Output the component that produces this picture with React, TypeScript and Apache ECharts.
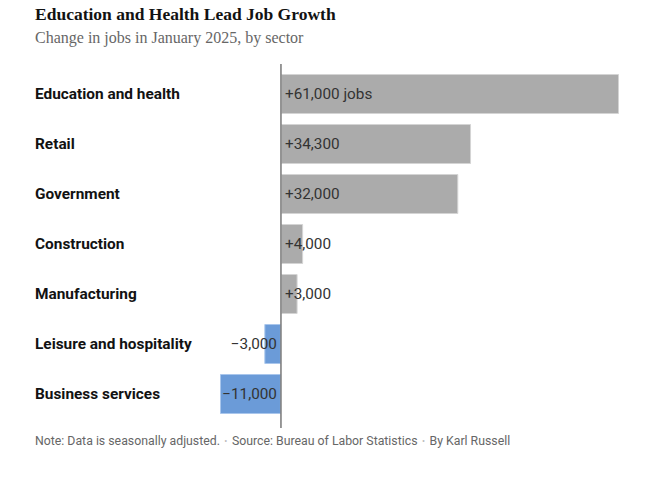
import React, { useEffect, useRef } from "react";
import * as echarts from "echarts";

const categories = [
  "Education and health",
  "Retail",
  "Government",
  "Construction",
  "Manufacturing",
  "Leisure and hospitality",
  "Business services",
];
const values = [61000, 34300, 32000, 4000, 3000, -3000, -11000];
const unitSuffix = [" jobs", "", "", "", "", "", ""];

const titleText = "Education and Health Lead Job Growth";
const subtitleText = "Change in jobs in January 2025, by sector";
const notes = [
  "Note: Data is seasonally adjusted.",
  "Source: Bureau of Labor Statistics",
  "By Karl Russell",
];

const fmt = (v: number, i: number) => {
  const s = Math.abs(v).toLocaleString("en-US");
  return (v >= 0 ? "+" : "\u2212") + s + unitSuffix[i];
};

export default function App() {
  const ref = useRef<HTMLDivElement>(null);
  useEffect(() => {
    if (!ref.current) return;
    const chart = echarts.init(ref.current, null, { renderer: "svg" });
    const sans = "Roboto, 'Liberation Sans', Arial, sans-serif";
    const serif = "'Liberation Serif', 'DejaVu Serif', serif";
    const GRID_TOP = 69;
    const GRID_H = 350;
    const footnote = {
      type: "text",
      left: 35,
      top: 435,
      style: {
        text:
          "{t|" + notes[0] + "}{d|  \u2022  }{t|" + notes[1] + "}{d|  \u2022  }{t|" + notes[2] + "}",
        rich: {
          t: { fontFamily: sans, fontSize: 12.3, fill: "#666666" },
          d: { fontFamily: sans, fontSize: 9, fill: "#bbbbbb" },
        },
      },
    };
    chart.setOption({
      animation: false,
      backgroundColor: "#ffffff",
      title: [
        {
          text: titleText,
          left: 30,
          top: 0,
          textStyle: {
            fontFamily: serif,
            fontWeight: "bold",
            fontSize: 17.5,
            color: "#121212",
          },
        },
        {
          text: subtitleText,
          left: 30,
          top: 24,
          textStyle: {
            fontFamily: serif,
            fontWeight: "normal",
            fontSize: 16,
            color: "#666666",
          },
        },
      ],
      grid: { left: 220, right: 29, top: GRID_TOP, height: GRID_H, containLabel: false },
      xAxis: {
        type: "value",
        min: -11000,
        max: 61000,
        show: false,
        splitLine: { show: false },
      },
      yAxis: {
        type: "category",
        data: categories,
        inverse: true,
        axisLine: { show: false },
        axisTick: { show: false },
        splitLine: { show: false },
        axisLabel: {
          align: "left",
          margin: 185,
          fontFamily: sans,
          fontWeight: "bold",
          fontSize: 15.4,
          color: "#121212",
        },
      },
      series: [
        {
          type: "bar",
          barWidth: 40,
          data: values.map((v, i) => ({
            value: v,
            itemStyle: v >= 0
              ? { color: "#ababab", borderColor: "#d4d4d4", borderWidth: 1 }
              : { color: "#6b9bd8", borderColor: "#a9c6ec", borderWidth: 1 },
            label: {
              show: true,
              position: v >= 0 ? "insideLeft" : "insideRight",
              distance: 4,
              formatter: () => fmt(v, i),
              fontFamily: sans,
              fontSize: 15.3,
              color: "#333333",
            },
          })),
        },
      ],
      graphic: [footnote],
    });
    const zx = chart.convertToPixel({ xAxisIndex: 0 }, 0) as number;
    chart.setOption({
      graphic: [
        footnote,
        {
          type: "line",
          z: 10,
          shape: { x1: zx, y1: GRID_TOP - 5, x2: zx, y2: GRID_TOP + GRID_H + 9 },
          style: { stroke: "#777777", lineWidth: 1.5 },
        },
      ],
    });
    return () => chart.dispose();
  }, []);
  return (
    <div
      ref={ref}
      style={{ position: "absolute", left: 0, top: 0, width: 648, height: 478 }}
    />
  );
}
